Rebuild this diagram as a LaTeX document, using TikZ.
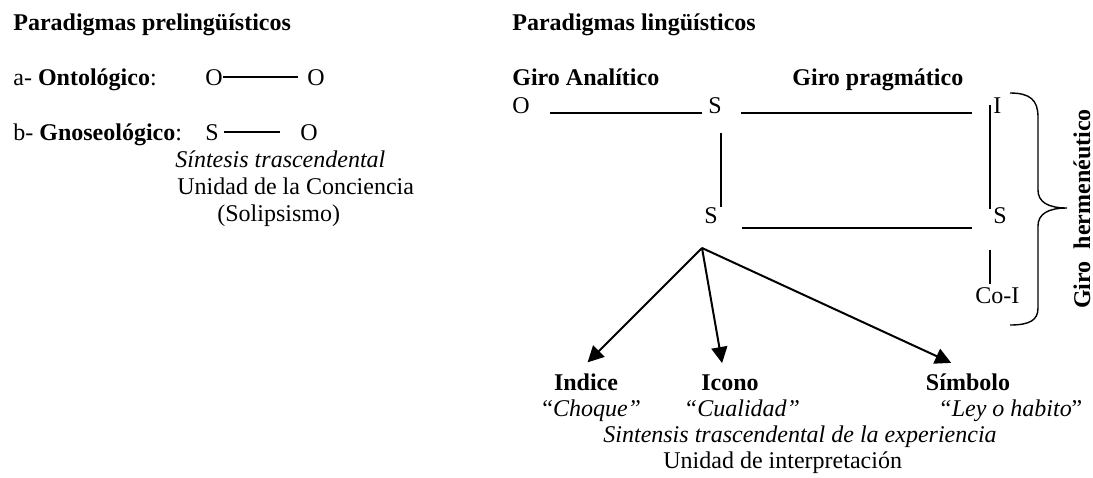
\documentclass[tikz,border=0pt,12pt]{standalone}
\usepackage{fontspec}
\setmainfont{Liberation Serif}
\usetikzlibrary{arrows.meta,calc}

\begin{document}
\begin{tikzpicture}[x=0.5pt,y=-0.5pt,
                    word/.style={inner sep=0pt,anchor=base west},
                    mid/.style={inner sep=0pt,anchor=base},
                    head/.style={word,font=\bfseries},
                    link/.style={line width=0.7pt},
                    pointer/.style={line width=1pt,-{Triangle[length=8pt,width=8pt]}}]
\useasboundingbox (0,0) rectangle (1093,477);
% prelinguistic side
\node (pre)     [head] at (13,30)   {Paradigmas prelingüísticos};
\node (onto)    [word] at (13,85)   {a- \textbf{Ontológico}:};
\node (ontoA)   [word] at (205,85)  {O};
\node (ontoB)   [word] at (307,85)  {O};
\node (gnoseo)  [word] at (13,140)  {b- \textbf{Gnoseológico}:};
\node (gnoS)    [word] at (205,140) {S};
\node (gnoO)    [word] at (300,140) {O};
\node (sintA)   [word] at (175,167) {\textit{Síntesis trascendental}};
\node (unidadA) [word] at (177,194) {Unidad de la Conciencia};
\node (solip)   [word] at (217,221) {(Solipsismo)};
\draw [link,shorten >=4.5pt] (ontoA.east) -- (ontoB.west);
\draw [link,shorten <=2.5pt,shorten >=10pt] (gnoS.east) -- (gnoO.west);
% linguistic side
\node (ling)    [head] at (512,30)  {Paradigmas lingüísticos};
\node (analit)  [head] at (512,85)  {Giro Analítico};
\node (pragm)   [head] at (792,85)  {Giro pragmático};
\node (o1)      [word] at (512,113) {O};
\node (s1)      [word] at (708,113) {S};
\node (i1)      [word] at (993,113) {I};
\node (s2)      [word] at (704,223) {S};
\node (s3)      [word] at (993,223) {S};
\node (coi)     [word] at (975,303) {Co-I};
\node (herm)    [mid,rotate=90,font=\bfseries] at (1090,209) {Giro\ \ hermenéutico};
\draw [link,shorten <=10pt,shorten >=3pt] (o1.base east) -- (s1.base west);
\draw [link,shorten <=9.5pt,shorten >=10.5pt] (s1.base east) -- (i1.base west);
\draw [link,shorten <=12pt,shorten >=10.5pt] ([yshift=-2.5pt]s2.base east) -- ([yshift=-2.5pt]s3.base west);
\draw [link,shorten <=9.5pt] ([xshift=-0.5pt]s1.south east) -- ([xshift=-0.5pt]s1.south east |- s2.north);
\draw [link] ([xshift=-1.5pt]s3.west |- i1.west) -- ([xshift=-1.5pt,yshift=-1pt]s3.west |- s3.north);
\draw [link,shorten <=13pt,shorten >=1.5pt] ([xshift=-1.5pt]s3.west |- s3.south) -- ([xshift=-1.5pt]s3.west |- coi.north);
\draw [link] (1010,93) .. controls (1030,93) and (1038,100) .. (1038,117)
             -- (1038,190) .. controls (1038,202) and (1048,208) .. (1067,208)
             .. controls (1048,208) and (1038,214) .. (1038,226)
             -- (1038,308) .. controls (1038,320) and (1030,325) .. (1010,325);
% signs
\coordinate (apex) at (702,248);
\node (indice)   [mid,font=\bfseries] at (586,390) {Indice};
\node (icono)    [mid,font=\bfseries] at (730,390) {Icono};
\node (simbolo)  [mid,font=\bfseries] at (968,390) {Símbolo};
\node (choque)   [word] at (542,416) {“\textit{Choque”}};
\node (cualidad) [mid]  at (742,416) {\textit{“Cualidad”}};
\node (ley)      [word] at (938,416) {\textit{“Ley o habito}”};
\node (sintB)    [word] at (603,442) {\textit{Sintensis trascendental de la experiencia}};
\node (unidadB)  [word] at (663,468) {Unidad de interpretación};
\draw [pointer,shorten >=7.5pt] (apex) -- ([xshift=-4.5pt]indice.north);
\draw [pointer,shorten >=5.5pt] (apex) -- ([xshift=-3pt]icono.north);
\draw [pointer,shorten >=12pt] (apex) -- ([xshift=2.5pt]simbolo.north);
\end{tikzpicture}
\end{document}
